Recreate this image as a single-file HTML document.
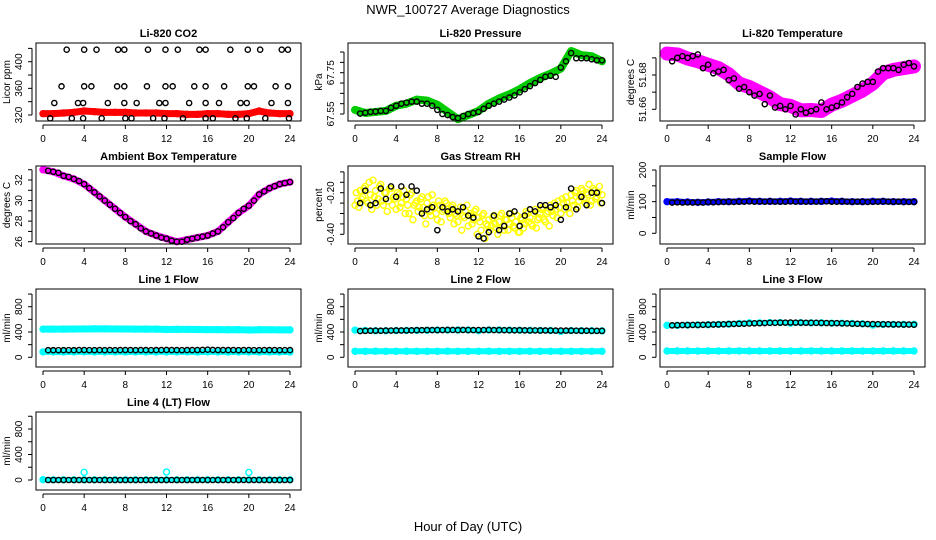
<!DOCTYPE html>
<html><head><meta charset="utf-8"><style>
html,body{margin:0;padding:0;background:#fff;}
svg{display:block;font-family:"Liberation Sans",Arial,sans-serif;}
</style></head><body>
<svg id="chart" width="936" height="540" viewBox="0 0 936 540" xmlns="http://www.w3.org/2000/svg">
<rect x="0" y="0" width="936" height="540" fill="#fff"/>
<text x="468" y="14" text-anchor="middle" font-size="13">NWR_100727  Average Diagnostics</text>
<text x="468" y="531" text-anchor="middle" font-size="13">Hour of Day (UTC)</text>
</svg>
<script>
const hourly = [0,1,2,3,4,5,6,7,8,9,10,11,12,13,14,15,16,17,18,19,20,21,22,23,24];
const halfHours = [0.5,1,1.5,2,2.5,3,3.5,4,4.5,5,5.5,6,6.5,7,7.5,8,8.5,9,9.5,10,10.5,11,11.5,12,12.5,13,13.5,14,14.5,15,15.5,16,16.5,17,17.5,18,18.5,19,19.5,20,20.5,21,21.5,22,22.5,23,23.5,24];
const xTickValues = [0,4,8,12,16,20,24];

// CO2
const co2Red = [322,322,323,324,326,325,324,324,324,323,323,323,322,322,321,321,322,322,321,321,322,326,323,322,322];
const co2TopX = [2.3,4.0,5.2,7.3,7.9,10.2,11.9,13.1,15.2,15.8,18.2,19.9,21.1,23.2,23.8];
const co2MidX = [1.8,4.0,4.7,7.2,7.9,10.1,11.9,12.6,14.7,15.8,17.6,19.9,20.5,22.6,23.8];
const co2LowX = [1.1,3.4,3.9,6.3,7.9,9.1,11.3,11.9,14.2,15.8,17.1,19.2,19.8,22.2,23.8];
const co2BotX = [0.7,2.8,3.9,5.7,8.0,8.6,10.7,11.8,13.6,15.8,16.5,18.7,19.8,21.6,23.9];
const co2Levels = [418,363,338,315];

// Pressure
const presGreen = [67.57,67.555,67.56,67.565,67.59,67.60,67.62,67.615,67.595,67.56,67.525,67.545,67.565,67.60,67.625,67.645,67.67,67.70,67.725,67.745,67.77,67.855,67.835,67.83,67.805];
const presBlack = [67.552,67.556,67.56,67.562,67.565,67.565,67.58,67.59,67.60,67.605,67.61,67.61,67.60,67.60,67.59,67.57,67.55,67.545,67.535,67.53,67.54,67.55,67.555,67.56,67.575,67.59,67.60,67.61,67.62,67.63,67.64,67.655,67.67,67.685,67.70,67.715,67.73,67.735,67.73,67.775,67.805,67.845,67.82,67.82,67.82,67.815,67.81,67.81];

// Li-820 temperature
const ltMagenta = [51.6925,51.692,51.6896,51.688,51.686,51.684,51.6804,51.675,51.673,51.670,51.667,51.663,51.662,51.6594,51.6596,51.659,51.6627,51.665,51.668,51.671,51.675,51.681,51.683,51.684,51.685];
const ltBlack = [51.688,51.690,51.691,51.690,51.691,51.692,51.684,51.686,51.681,51.682,51.683,51.677,51.678,51.672,51.673,51.670,51.668,51.669,51.663,51.668,51.661,51.662,51.660,51.662,51.657,51.660,51.658,51.659,51.660,51.664,51.660,51.661,51.662,51.664,51.667,51.669,51.673,51.675,51.676,51.676,51.682,51.684,51.684,51.684,51.683,51.686,51.687,51.685];

// Ambient
const ambMagenta = [33.0,32.8,32.4,32.1,31.6,30.8,30.0,29.2,28.4,27.7,27.0,26.6,26.3,26.0,26.2,26.4,26.6,27.0,27.9,28.8,29.5,30.6,31.2,31.6,31.8];
const ambBlack = [32.9,32.8,32.7,32.4,32.3,32.1,31.9,31.6,31.2,30.8,30.4,30.0,29.6,29.2,28.8,28.4,28.0,27.7,27.3,27.0,26.8,26.6,26.4,26.3,26.1,26.0,26.0,26.2,26.3,26.4,26.5,26.6,26.8,27.0,27.4,27.9,28.3,28.8,29.2,29.5,30.0,30.6,30.9,31.2,31.4,31.6,31.7,31.8];

// RH
const rhYellowA = [-0.26,-0.24,-0.19,-0.22,-0.17,-0.25,-0.21,-0.14,-0.19,-0.23,-0.16,-0.26,-0.20,-0.24,-0.18,-0.22,-0.28,-0.21,-0.25,-0.19,
 -0.23,-0.30,-0.20,-0.26,-0.24,-0.27,-0.22,-0.31,-0.25,-0.29,-0.21,-0.27,-0.33,-0.26,-0.29,-0.24,
 -0.28,-0.32,-0.26,-0.30,-0.34,-0.27,-0.31,-0.29,-0.36,-0.30,-0.33,-0.28,-0.32,-0.38,-0.30,-0.35,
 -0.33,-0.36,-0.31,-0.37,-0.34,-0.30,-0.38,-0.33,-0.35,-0.32,-0.37,-0.31,-0.39,-0.33,-0.35,-0.30,
 -0.32,-0.36,-0.28,-0.33,-0.30,-0.27,-0.34,-0.29,-0.26,-0.31,-0.28,-0.24,-0.30,-0.25,-0.22,-0.27,
 -0.21,-0.26,-0.19,-0.24,-0.18,-0.23,-0.20,-0.16,-0.24,-0.19,-0.22,-0.17,-0.21];
const rhYellowB = [-0.20,-0.27,-0.23,-0.18,-0.24,-0.15,-0.28,-0.22,-0.26,-0.17,-0.24,-0.20,-0.29,-0.18,-0.26,-0.23,-0.20,-0.27,-0.22,-0.30,
 -0.26,-0.21,-0.33,-0.25,-0.29,-0.23,-0.27,-0.35,-0.22,-0.31,-0.26,-0.30,-0.24,-0.34,-0.28,-0.25,
 -0.30,-0.27,-0.35,-0.31,-0.29,-0.38,-0.32,-0.26,-0.31,-0.35,-0.29,-0.40,-0.34,-0.31,-0.42,-0.36,
 -0.38,-0.32,-0.35,-0.40,-0.31,-0.36,-0.33,-0.38,-0.30,-0.36,-0.34,-0.39,-0.32,-0.37,-0.29,-0.34,
 -0.35,-0.30,-0.37,-0.32,-0.28,-0.33,-0.30,-0.36,-0.29,-0.25,-0.32,-0.27,-0.23,-0.28,-0.25,-0.30,
 -0.24,-0.20,-0.27,-0.22,-0.19,-0.25,-0.21,-0.26,-0.18,-0.23,-0.20,-0.25];
const rhBlack = [-0.25,-0.19,-0.26,-0.25,-0.18,-0.23,-0.17,-0.22,-0.17,-0.21,-0.17,-0.19,-0.30,-0.28,-0.27,-0.38,-0.27,-0.29,-0.28,-0.29,-0.27,-0.31,-0.32,-0.41,-0.42,-0.39,-0.31,-0.38,-0.36,-0.30,-0.29,-0.36,-0.31,-0.28,-0.29,-0.26,-0.26,-0.27,-0.26,-0.33,-0.27,-0.18,-0.28,-0.22,-0.26,-0.20,-0.20,-0.25];

// Flows
const sampleBlue = [100,100,99,98,99,100,100,101,102,101,101,101,102,101,101,101,102,101,100,100,101,101,100,100,100];
const sampleBlack = [97,98,97,98,97,98,97,99,98,99,99,100,99,100,100,101,100,101,100,101,100,100,100,101,100,101,100,101,100,101,101,100,100,101,100,100,100,100,99,100,100,101,100,100,100,99,99,99];
const line1CyanHigh = [445,446,446,447,448,450,449,448,447,446,446,445,440,442,441,440,438,437,436,437,432,436,435,434,434];
const line1CyanLow = [85,85,84,85,86,85,85,85,84,85,85,85,85,85,85,84,85,85,84,85,85,84,84,84,84];
const line1Black = [112,112,113,112,113,112,114,115,113,113,114,113,114,113,114,115,114,113,114,114,113,114,114,116,114,114,113,114,114,115,116,120,116,115,114,114,114,113,114,115,113,113,114,114,114,113,113,114];
const line2CyanHigh = [430,425,420,420,422,424,426,428,430,430,432,432,420,432,432,430,428,426,425,424,410,422,421,420,418];
const line2CyanLow = [95,95,96,95,95,96,95,95,95,96,95,95,95,96,95,95,95,96,95,95,95,95,95,95,95];
const line2Black = [415,418,420,421,420,422,423,424,424,425,426,428,428,430,430,431,431,432,432,430,432,431,430,431,431,432,430,430,429,428,427,428,426,425,425,424,424,423,422,423,422,422,421,420,420,419,418,418];
const line3CyanHigh = [505,505,510,512,515,520,525,535,545,545,550,550,540,548,545,545,540,540,535,530,510,520,520,520,522];
const line3CyanLow = [100,100,100,99,100,100,100,101,100,100,100,100,100,100,101,100,100,100,100,99,100,100,100,100,100];
const line3Black = [505,508,510,510,512,512,514,515,518,520,522,525,528,530,532,535,538,540,542,545,545,548,548,550,548,548,546,545,545,544,542,540,540,538,535,532,530,528,526,525,524,522,522,520,520,518,518,516];
const line4Cyan = [5,3,3,3,3,3,3,3,3,3,3,3,3,3,3,3,3,3,3,3,3,3,3,3,3];
const line4OutX = [4,12,20];
const line4OutY = [120,125,118];
const line4Black = [0,0,0,0,0,0,0,0,0,0,0,0,0,0,0,0,0,0,0,0,0,0,0,0,0,0,0,0,0,0,0,0,0,0,0,0,0,0,0,0,0,0,0,0,0,0,0,0];

const NS = "http://www.w3.org/2000/svg";
const svg = document.getElementById("chart");
function mk(tag, attrs, parent){
  const e = document.createElementNS(NS, tag);
  for (const k in attrs) e.setAttribute(k, attrs[k]);
  parent.appendChild(e);
  return e;
}

function panel(col, row, name, title, ytitle, vA, yA, vB, yB, ticks, labels){
  const x0 = 36 + 312*col, x1 = x0 + 265;
  const y0 = 43 + 123*row, y1 = y0 + 78;
  const g = mk("g", {}, svg);
  
  
  const sx = v => x0 + 7 + v*(247/24);
  const sy = v => yA + (v - vA)*(yB - yA)/(vB - vA);
  const plot = mk("g", {}, g);
  
  
  const t = mk("text", {x:(x0+x1)/2, y:y0-6, "text-anchor":"middle", "font-size":"11", "font-weight":"bold"}, g);
  t.textContent = title;
  
  
  const yt = mk("text", {x:x0-26, y:(y0+y1)/2, "text-anchor":"middle", "font-size":"10", transform:`rotate(-90 ${x0-26} ${(y0+y1)/2})`}, g);
  yt.textContent = ytitle;
  
  
  // y axis
  const ys = ticks.map(sy);
  const yl = mk("line", {x1:x0-4, x2:x0-4, y1:Math.min(...ys), y2:Math.max(...ys), stroke:"#000"}, g);
  
  
  ticks.forEach(v => {
    const tk = mk("line", {x1:x0-8, x2:x0-4, y1:sy(v), y2:sy(v), stroke:"#000"}, g);
    
    
  });
  labels.forEach(l => {
    const yy = sy(l[0]);
    const tl = mk("text", {x:x0-14, y:yy, "text-anchor":"middle", "font-size":"10", transform:`rotate(-90 ${x0-14} ${yy})`}, g);
    tl.textContent = l[1];
    
    
  });
  // x axis
  const xl = mk("line", {x1:sx(0), x2:sx(24), y1:y1+4, y2:y1+4, stroke:"#000"}, g);
  
  
  xTickValues.forEach(v => {
    const tk = mk("line", {x1:sx(v), x2:sx(v), y1:y1+4, y2:y1+8, stroke:"#000"}, g);
    
    
    const tl = mk("text", {x:sx(v), y:y1+21, "text-anchor":"middle", "font-size":"10"}, g);
    tl.textContent = String(v);
    
    
  });
  const box = mk("rect", {x:x0, y:y0, width:x1-x0, height:y1-y0, fill:"none", stroke:"#000"}, g);
  
  
  return {plot, sx, sy, name};
}

function points(p, xs, ys, color, label, r){
  const g = mk("g", {fill:"none", stroke:color, "stroke-width":"1.4"}, p.plot);
  
  
  ys.forEach((v, i) => {
    const c = mk("circle", {cx:p.sx(xs[i]), cy:p.sy(v), r:r||2.6}, g);
    
    
  });
}
function band(p, ys, color, label, w){
  const pts = ys.map((v, i) => p.sx(hourly[i]) + "," + p.sy(v)).join(" ");
  const pl = mk("polyline", {points:pts, fill:"none", stroke:color, "stroke-width":w||6, "stroke-linejoin":"round", "stroke-linecap":"round"}, p.plot);
  
  
  points(p, hourly, ys, color, label, 3);
}
function levelPoints(p, xs, level, label){
  points(p, xs, xs.map(() => level), "#000", label);
}

// Row 1
let p = panel(0,0,"co2","Li-820 CO2","Licor ppm",320,115,400,61.7,[320,340,360,380,400,420],[[320,"320"],[360,"360"],[400,"400"]]);
band(p, co2Red, "#ff0000", "co2-red", 7);
levelPoints(p, co2TopX, co2Levels[0], "co2-black-top");
levelPoints(p, co2MidX, co2Levels[1], "co2-black-mid");
levelPoints(p, co2LowX, co2Levels[2], "co2-black-low");
levelPoints(p, co2BotX, co2Levels[3], "co2-black-bottom");

p = panel(1,0,"pressure","Li-820 Pressure","kPa",67.55,114,67.75,72.7,[67.55,67.60,67.65,67.70,67.75,67.80,67.85],[[67.55,"67.55"],[67.75,"67.75"]]);
band(p, presGreen, "#00cc00", "pressure-green", 8);
points(p, halfHours, presBlack, "#000", "pressure-black");

p = panel(2,0,"li820-temp","Li-820 Temperature","degrees C",51.66,109.3,51.68,75,[51.66,51.67,51.68,51.69],[[51.66,"51.66"],[51.68,"51.68"]]);
band(p, ltMagenta, "#ff00ff", "li820-temp-magenta", 14);
points(p, halfHours, ltBlack, "#000", "li820-temp-black");

// Row 2
p = panel(0,1,"ambient","Ambient Box Temperature","degrees C",26,241.7,32,180,[26,27,28,29,30,31,32,33],[[26,"26"],[28,"28"],[30,"30"],[32,"32"]]);
band(p, ambMagenta, "#ff00ff", "ambient-magenta", 7);
points(p, halfHours, ambBlack, "#000", "ambient-black");

p = panel(1,1,"rh","Gas Stream RH","percent",-0.40,234.3,-0.20,192.7,[-0.40,-0.35,-0.30,-0.25,-0.20,-0.15,-0.10],[[-0.40,"-0.40"],[-0.20,"-0.20"]]);
points(p, rhYellowA.map((v,i)=>i*0.25), rhYellowA, "#ffff00", "rh-yellow-a", 3);
points(p, rhYellowB.map((v,i)=>0.125+i*0.25), rhYellowB, "#ffff00", "rh-yellow-b", 3);
points(p, halfHours, rhBlack, "#000", "rh-black");

p = panel(2,1,"sample-flow","Sample Flow","ml/min",0,233.3,200,170,[0,50,100,150,200],[[0,"0"],[100,"100"],[200,"200"]]);
band(p, sampleBlue, "#0000ff", "sample-blue", 6);
points(p, halfHours, sampleBlack, "#000", "sample-black");

// Row 3
const flowTicks = [0,200,400,600,800,1000];
const flowLabels = [[0,"0"],[400,"400"],[800,"800"]];
p = panel(0,2,"line1","Line 1 Flow","ml/min",0,357.3,800,306.7,flowTicks,flowLabels);
band(p, line1CyanHigh, "#00ffff", "line1-cyan-high", 7);
band(p, line1CyanLow, "#00ffff", "line1-cyan-low", 6);
points(p, halfHours, line1Black, "#000", "line1-black");

p = panel(1,2,"line2","Line 2 Flow","ml/min",0,357.3,800,306.7,flowTicks,flowLabels);
band(p, line2CyanHigh, "#00ffff", "line2-cyan-high", 5);
band(p, line2CyanLow, "#00ffff", "line2-cyan-low", 6);
points(p, halfHours, line2Black, "#000", "line2-black");

p = panel(2,2,"line3","Line 3 Flow","ml/min",0,357.3,800,306.7,flowTicks,flowLabels);
band(p, line3CyanHigh, "#00ffff", "line3-cyan-high", 5);
band(p, line3CyanLow, "#00ffff", "line3-cyan-low", 6);
points(p, halfHours, line3Black, "#000", "line3-black");

// Row 4
p = panel(0,3,"line4","Line 4 (LT) Flow","ml/min",0,480,800,429,flowTicks,flowLabels);
band(p, line4Cyan, "#00ffff", "line4-cyan", 5);
points(p, line4OutX, line4OutY, "#00ffff", "line4-cyan-outliers", 3);
points(p, halfHours, line4Black, "#000", "line4-black");
</script>
</body></html>
